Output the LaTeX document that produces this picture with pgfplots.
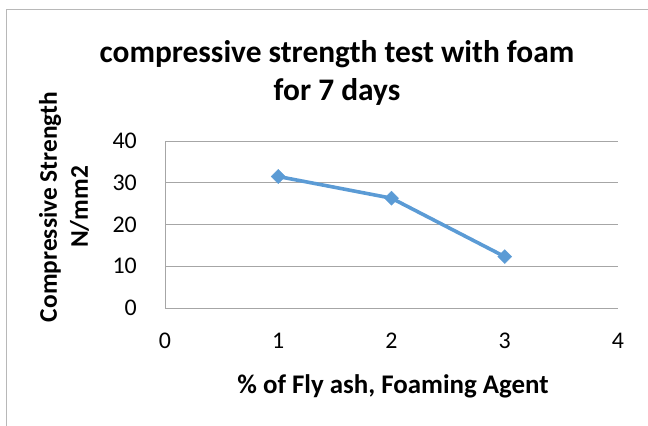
\documentclass[border=0pt]{standalone}
\usepackage{fontspec}
\setmainfont{Carlito}
\usepackage{pgfplots}
\pgfplotsset{compat=1.18}
\definecolor{xlblue}{HTML}{5B9BD5}
\definecolor{gridgray}{HTML}{A6A6A6}
\begin{document}
\begin{tikzpicture}
\useasboundingbox (0bp,0bp) rectangle (648bp,426bp);
\draw[color=gridgray!80, line width=1.2bp] (6.5bp,0bp) -- (6.5bp,416.5bp) -- (648bp,416.5bp);
\begin{axis}[
  at={(165bp,118bp)}, anchor=south west,
  scale only axis, width=453bp, height=167bp,
  xmin=0, xmax=4, ymin=0, ymax=40,
  xtick={0,1,2,3,4}, ytick={0,10,20,30,40},
  axis x line*=bottom, axis y line*=left,
  axis line style={gridgray, line width=0.8bp, -},
  ymajorgrids, grid style={gridgray, line width=0.8bp},
  major tick length=0pt,
  tick label style={font=\fontsize{24}{28}\selectfont, inner sep=0pt},
  /pgf/number format/assume math mode=true,
  yticklabel style={anchor=east, xshift=-28bp},
  xticklabel style={anchor=north, yshift=-25bp},
  clip=false,
]
\addplot[color=xlblue, line width=3.6bp, mark=square*, mark size=5bp, mark options={fill=xlblue, line width=0.3bp, rotate=45}]
  coordinates {(1,31.5) (2,26.3) (3,12.3)};
\end{axis}
\node[font=\fontsize{31.5}{38}\selectfont\bfseries, align=center, anchor=center] at (337bp,353bp) {compressive strength test with foam\\for 7 days};
\node[font=\fontsize{25.5}{31}\selectfont\bfseries, align=center, rotate=90, anchor=center] at (64bp,219bp) {Compressive Strength\\N/mm2};
\node[font=\fontsize{27}{32}\selectfont\bfseries, anchor=center] at (393bp,40bp) {\% of Fly ash, Foaming Agent};
\end{tikzpicture}
\end{document}
